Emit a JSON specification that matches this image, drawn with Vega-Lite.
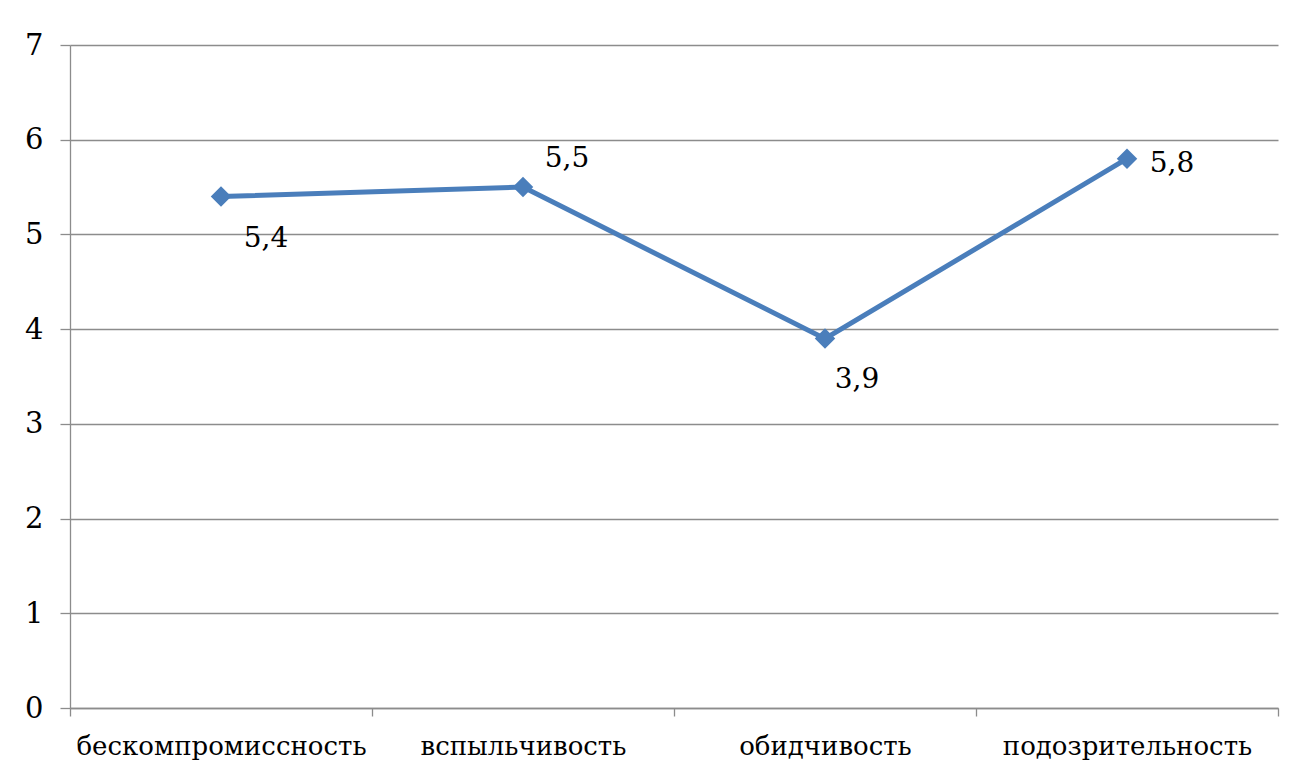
{
  "$schema": "https://vega.github.io/schema/vega-lite/v6.json",
  "width": 1208,
  "height": 663,
  "autosize": {"type": "none"},
  "padding": {"left": 70, "top": 45, "right": 19, "bottom": 66},
  "background": "white",
  "config": {
    "locale": {
      "number": {"decimal": ",", "thousands": " ", "grouping": [3], "currency": ["", " ₽"]}
    },
    "view": {"stroke": null},
    "font": "DejaVu Serif",
    "axis": {
      "labelFont": "DejaVu Serif",
      "labelColor": "#000000",
      "labelLimit": 0,
      "domainColor": "#8c8c8c",
      "domainWidth": 1.3,
      "tickColor": "#8c8c8c",
      "tickWidth": 1.3,
      "gridColor": "#8c8c8c",
      "gridWidth": 1.3,
      "title": null
    },
    "text": {"font": "DejaVu Serif", "fontSize": 28, "color": "#000000", "align": "center", "baseline": "alphabetic"}
  },
  "data": {
    "values": [
      {"trait": "бескомпромиссность", "score": 5.4},
      {"trait": "вспыльчивость", "score": 5.5},
      {"trait": "обидчивость", "score": 3.9},
      {"trait": "подозрительность", "score": 5.8}
    ]
  },
  "encoding": {
    "x": {
      "field": "trait",
      "type": "nominal",
      "sort": null,
      "scale": {"paddingInner": 0, "paddingOuter": 0},
      "axis": {
        "labelFontSize": 26,
        "labelAngle": 0,
        "tickBand": "extent",
        "tickSize": 8,
        "labelPadding": 17,
        "grid": false
      }
    },
    "y": {
      "field": "score",
      "type": "quantitative",
      "scale": {"domain": [0, 7], "nice": false, "zero": true},
      "axis": {
        "labelFontSize": 29,
        "values": [0, 1, 2, 3, 4, 5, 6, 7],
        "tickSize": 10,
        "labelPadding": 17,
        "grid": true
      }
    }
  },
  "layer": [
    {
      "mark": {"type": "line", "color": "#4a7ebb", "strokeWidth": 5}
    },
    {
      "mark": {"type": "point", "shape": "diamond", "filled": true, "color": "#4a7ebb", "opacity": 1, "size": 420}
    },
    {
      "transform": [{"filter": "datum.trait === 'бескомпромиссность'"}],
      "mark": {"type": "text", "dx": 45, "dy": 50},
      "encoding": {"text": {"field": "score", "type": "quantitative", "format": ".1f"}}
    },
    {
      "transform": [{"filter": "datum.trait === 'вспыльчивость'"}],
      "mark": {"type": "text", "dx": 44, "dy": -20},
      "encoding": {"text": {"field": "score", "type": "quantitative", "format": ".1f"}}
    },
    {
      "transform": [{"filter": "datum.trait === 'обидчивость'"}],
      "mark": {"type": "text", "dx": 32, "dy": 49},
      "encoding": {"text": {"field": "score", "type": "quantitative", "format": ".1f"}}
    },
    {
      "transform": [{"filter": "datum.trait === 'подозрительность'"}],
      "mark": {"type": "text", "dx": 45, "dy": 13},
      "encoding": {"text": {"field": "score", "type": "quantitative", "format": ".1f"}}
    }
  ]
}
